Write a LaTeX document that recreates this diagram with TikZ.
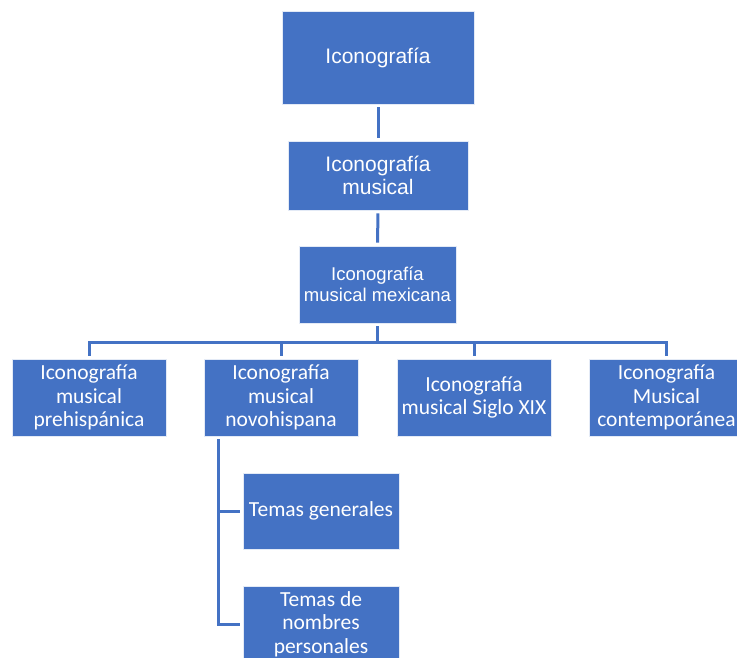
\documentclass[tikz,border=0pt]{standalone}
\usepackage{fontspec}
\setmainfont{Liberation Sans}
\newfontfamily\carlfont{Carlito}
\definecolor{boxblue}{HTML}{4472C4}
\begin{document}
\begin{tikzpicture}[x=1pt,y=-1pt,
  bx/.style={rectangle, fill=boxblue, draw=white!85!boxblue, line width=0.6pt, text=white, align=center, inner sep=0pt},
  conn/.style={draw=boxblue, line width=3pt, shorten <=3pt, shorten >=3pt},
  cbar/.style={draw=boxblue, line width=3pt}]
\useasboundingbox (0,0) rectangle (737,657);
\clip (0,0) rectangle (737,657);
\node[bx, minimum width=192pt, minimum height=93pt, font=\fontsize{21}{25}\selectfont] (t) at (378,57.5) {Iconografía};
\node[bx, minimum width=180pt, minimum height=69pt, font=\fontsize{21}{23}\selectfont] (m2) at (378,175.5) {Iconografía\\musical};
\node[bx, minimum width=157pt, minimum height=77pt, font=\fontsize{18.5}{21}\selectfont] (m3) at (377.5,284.5) {Iconografía\\musical mexicana};
\begin{scope}[every node/.append style={bx, minimum width=154pt, minimum height=77pt, font=\carlfont\fontsize{21.5}{23.5}\selectfont}]
\node (l1) at (89,397.5) {Iconografía\\musical\\prehispánica};
\node (l2) at (281,397.5) {Iconografía\\musical\\novohispana};
\node (l3) at (474,397.5) {Iconografía\\musical Siglo XIX};
\node[minimum width=155pt] (l4) at (666.5,397.5) {Iconografía\\Musical\\contemporánea};
\node[minimum width=156pt, minimum height=76pt] (s1) at (321,511) {Temas generales};
\node[minimum width=156pt, minimum height=76pt] (s2) at (321,624) {Temas de\\nombres\\personales};
\end{scope}
\coordinate (bus) at (0,342);
\coordinate (trunk) at (218,0);
\draw[conn] (t.south) -- (m2.north);
\draw[conn] (m2.south) -- (m3.north);
\draw[cbar, shorten <=3pt] (m3.south) -- (m3.south |- bus);
\draw[cbar, shorten <=3pt, shorten >=3pt] (l1.north) -- (l1.north |- bus) -- (l4.north |- bus) -- (l4.north);
\draw[cbar, shorten >=3pt] (l2.north |- bus) -- (l2.north);
\draw[cbar, shorten >=3pt] (l3.north |- bus) -- (l3.north);
\draw[cbar, shorten <=3pt, shorten >=3pt] (trunk |- l2.south) -- (trunk |- s2.west) -- (s2.west);
\draw[cbar, shorten >=3pt] (trunk |- s1.west) -- (s1.west);
\end{tikzpicture}
\end{document}
